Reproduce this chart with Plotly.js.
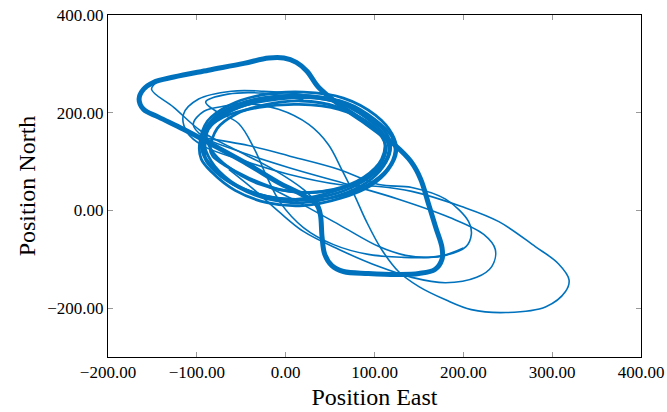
<!DOCTYPE html>
<html>
<head>
<meta charset="utf-8">
<script src="https://cdn.plot.ly/plotly-3.0.1.min.js"></script>
<style>html,body{margin:0;padding:0;background:#fff;}#chart{width:667px;height:412px;}</style>
</head>
<body>
<div id="chart"></div>
<script>
// Thick rounded loop (repeated passes)
const loopEast  = [-165,-160,-149,-126,-87,-47,-19,-2,12,24,37,60,88,122,141,152,161,169,176,176,168,150,127,93,65,52,44,41,39,35,20,-8,-42,-81,-115,-143,-160,-165];
const loopNorth = [228,248,262,273,287,301,312,312,303,285,252,217,182,135,100,64,12,-35,-76,-100,-121,-129,-131,-129,-125,-113,-90,-55,-8,12,31,57,94,133,166,191,207,228];

// Orbits around the central region
const orbit1East  = [-93,-84,-62,-28,15,60,93,114,118,110,91,60,20,-19,-53,-79,-91,-93];
const orbit1North = [135,176,207,228,236,224,191,156,125,90,57,31,16,23,47,84,111,135];
const orbit2East  = [-85,-77,-55,-24,18,58,89,108,113,106,89,64,35,-5,-41,-69,-82,-85];
const orbit2North = [125,168,198,216,224,212,183,151,125,93,66,46,37,42,66,93,111,125];
const orbit3East  = [-95,-82,-57,-21,26,69,100,119,123,114,93,60,20,-21,-59,-84,-93,-95];
const orbit3North = [146,187,215,232,234,220,187,152,121,84,53,29,21,29,53,88,115,146];
const orbit4East  = [-89,-70,-30,15,60,96,111,108,88,54,15,-28,-64,-84,-89];
const orbit4North = [162,191,211,217,207,176,142,105,68,43,37,53,88,125,162];
const orbit5East  = [-91,-87,-66,-33,12,57,91,111,116,107,88,57,18,-21,-55,-81,-90,-91];
const orbit5North = [125,166,199,222,232,222,189,154,121,88,60,35,23,29,51,84,105,125];
const orbit6East  = [-92,-81,-53,-8,43,84,110,118,110,88,54,15,-28,-62,-84,-92];
const orbit6North = [146,183,211,228,228,203,166,131,94,64,39,23,31,60,101,146];
const orbit7East  = [-97,-88,-64,-28,20,65,101,120,125,116,96,62,20,-21,-57,-83,-95,-97];
const orbit7North = [135,183,215,236,242,230,195,156,121,84,51,25,10,16,41,78,105,135];

// Thin excursions
const lobeCEast  = [118,99,65,15,-25,-61,-98,-115,-111,-92,-53,3,60,105,142,198,240,281,307,319,315,293,248,209,180,150,127,108,91,77,63,48,26,-8,-42,-76,-92];
const lobeCNorth = [125,182,219,238,244,244,228,197,160,131,105,74,53,49,39,8,-23,-74,-109,-142,-166,-197,-209,-203,-183,-156,-125,-80,-23,33,84,135,176,207,217,197,156];
const lobeBEast  = [15,-28,-64,-92,-104,-92,-59,3,71,127,184,223,236,232,215,180,142,105,60,20,-8,-36,-64];
const lobeBNorth = [232,226,215,203,176,150,125,88,53,23,-14,-49,-80,-115,-137,-148,-137,-115,-80,-43,-2,43,84];
const lobeAEast  = [-91,-42,3,60,105,142,180,206,209,203,180,161,135,105,60,15,-25];
const lobeANorth = [148,133,112,84,53,47,23,-23,-49,-74,-92,-96,-92,-74,-29,16,53];
const chordDEast  = [-143,-151,-126,-95,-53,-14,20,37];
const chordDNorth = [265,248,211,162,121,84,43,12];
const chordEEast  = [20,-25,-65,-90,-80,-53,-35,-21,-6,20,54,93,133,161,180,200];
const chordENorth = [226,240,238,222,205,178,125,68,16,-35,-70,-90,-96,-96,-91,-77];

const xTicks = [-200,-100,0,100,200,300,400];
const yTicks = [-200,0,200,400];

const blue = 'rgb(0,114,189)';
function tr(x, y, w) {
  return {x: x, y: y, type: 'scatter', mode: 'lines',
          line: {color: blue, width: w, shape: 'spline', smoothing: 1},
          hoverinfo: 'skip', showlegend: false};
}
const data = [
  tr(loopEast, loopNorth, 5),
  tr(orbit1East, orbit1North, 2.8),
  tr(orbit2East, orbit2North, 2.8),
  tr(orbit3East, orbit3North, 2.8),
  tr(orbit4East, orbit4North, 2.8),
  tr(orbit5East, orbit5North, 2.8),
  tr(orbit6East, orbit6North, 2.8),
  tr(orbit7East, orbit7North, 2.8),
  tr(lobeCEast, lobeCNorth, 1.6),
  tr(lobeBEast, lobeBNorth, 1.6),
  tr(lobeAEast, lobeANorth, 1.6),
  tr(chordDEast, chordDNorth, 1.6),
  tr(chordEEast, chordENorth, 1.6)
];

const font = {family: '"Liberation Serif", "Times New Roman", serif', color: '#000'};
const axisCommon = {
  showgrid: false, zeroline: false,
  showline: true, linecolor: '#000', linewidth: 1, mirror: 'ticks',
  ticks: 'inside', ticklen: 5, tickcolor: '#999', tickwidth: 1,
  tickformat: '.2f', tickfont: Object.assign({size: 17}, font)
};
const layout = {
  width: 667, height: 412,
  margin: {l: 108, r: 26, t: 15, b: 55},
  paper_bgcolor: '#fff', plot_bgcolor: '#fff',
  xaxis: Object.assign({}, axisCommon, {
    range: [-200, 400], tickvals: xTicks,
    title: {text: 'Position East', font: Object.assign({size: 24}, font), standoff: 6}
  }),
  yaxis: Object.assign({}, axisCommon, {
    range: [-300, 400], tickvals: yTicks,
    title: {text: 'Position North', font: Object.assign({size: 24}, font), standoff: 4}
  })
};
Plotly.newPlot('chart', data, layout, {displayModeBar: false, staticPlot: true});
</script>
</body>
</html>
